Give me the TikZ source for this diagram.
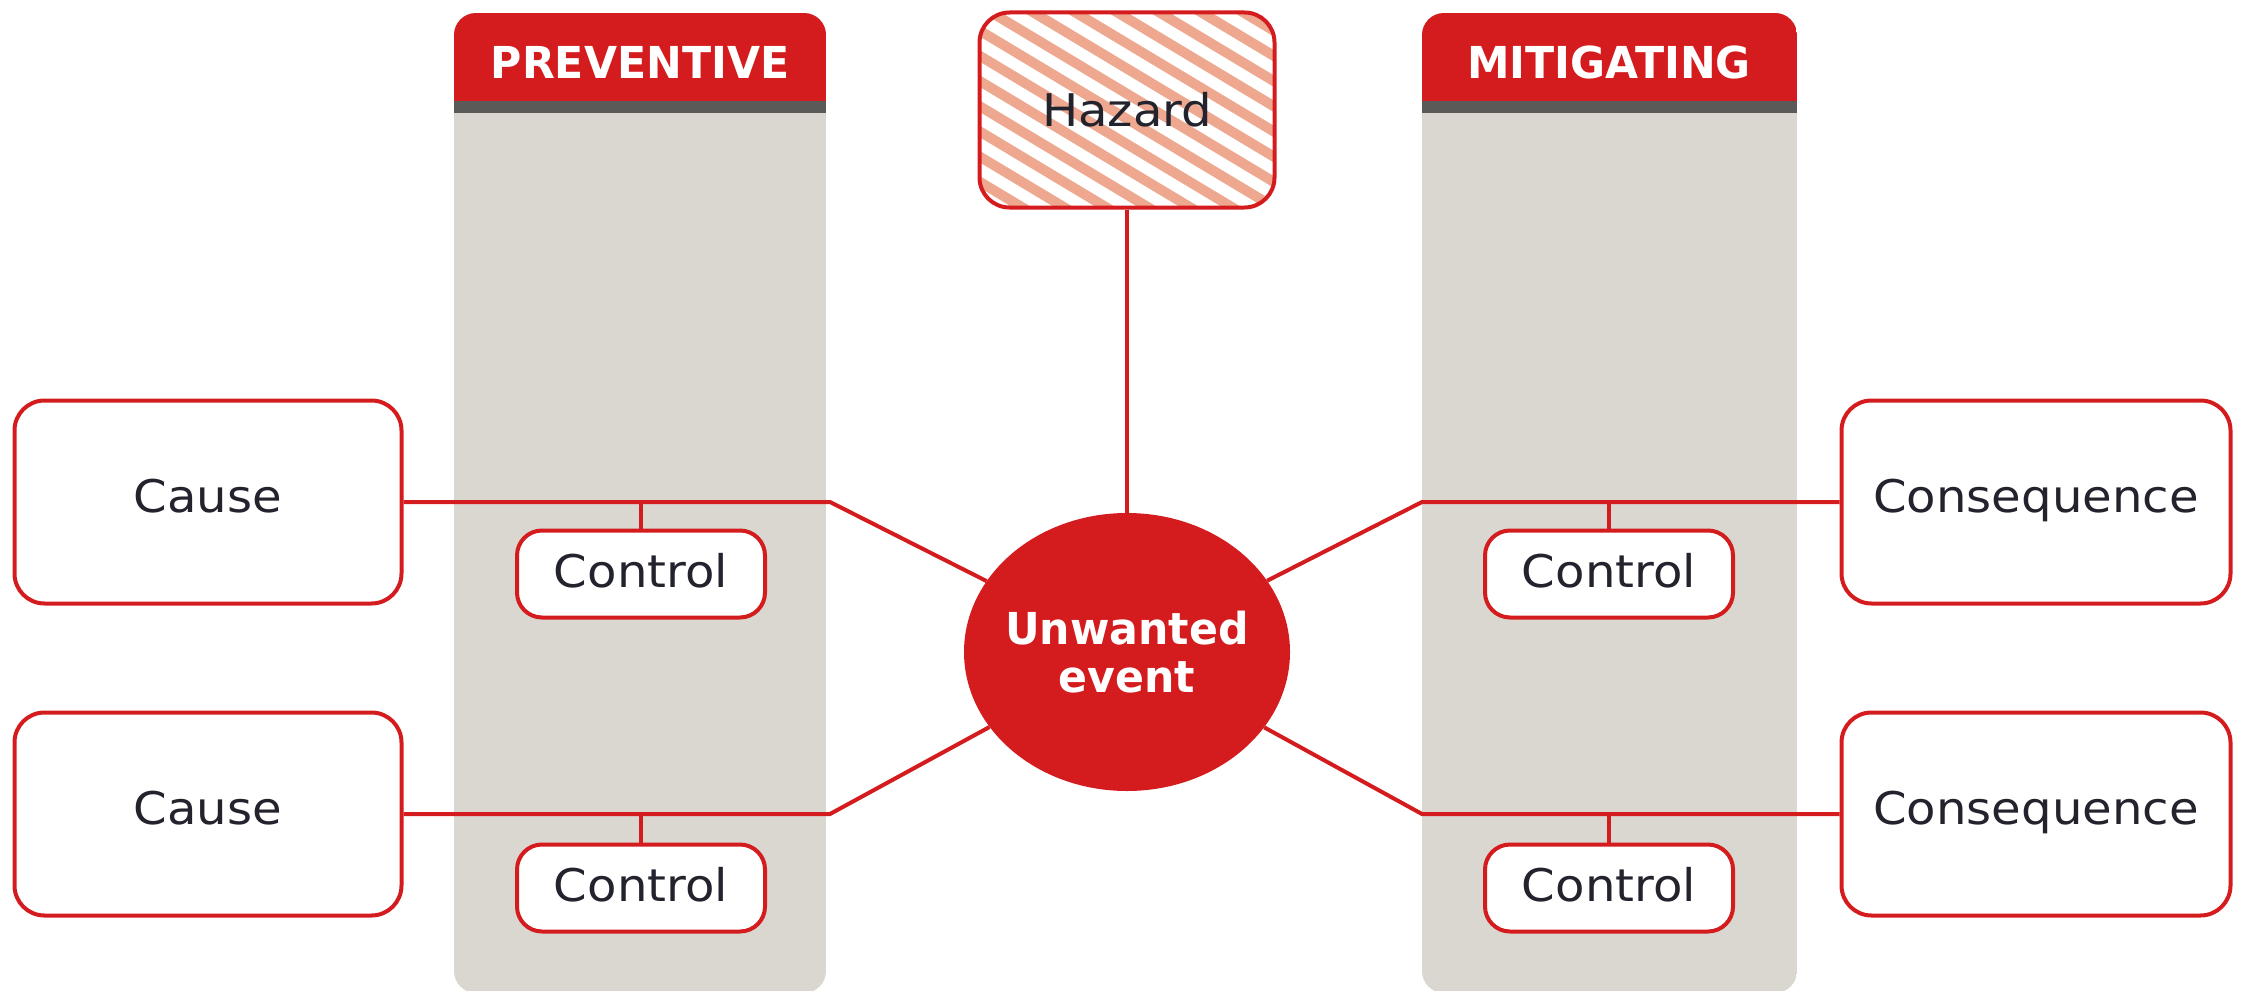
\documentclass[tikz,border=0pt]{standalone}
\usepackage{fontspec}
\usetikzlibrary{shapes.geometric}
\setmainfont{DejaVu Sans}
\newfontfamily\labelfont{DejaVu Sans}[FakeStretch=1.07]
\newfontfamily\headfont{DejaVu Sans}[FakeStretch=0.97]

\definecolor{bowred}{HTML}{D41C1E}
\definecolor{colgrey}{HTML}{DAD7D0}
\definecolor{bandgrey}{HTML}{5A5A58}
\definecolor{stripe}{HTML}{EEA88F}
\definecolor{ink}{HTML}{23232D}

\tikzset{
  labeltext/.style={font=\labelfont\fontsize{45}{54}\selectfont, text=ink},
  headtext/.style={font=\headfont\bfseries\fontsize{44}{48}\selectfont, text=white},
  endbox/.style={labeltext, draw=bowred, line width=4pt, fill=white,
    rounded corners=30pt, minimum width=387pt, minimum height=203pt,
    inner xsep=0pt, inner ysep=0pt, text depth=12pt},
  ctlbox/.style={labeltext, draw=bowred, line width=4pt, fill=white,
    rounded corners=25pt, minimum width=248pt, minimum height=87pt,
    inner sep=0pt, text depth=8pt},
  hazbox/.style={labeltext, draw=bowred, line width=4pt,
    rounded corners=30pt, minimum width=295pt, minimum height=195pt, inner sep=0pt,
    path picture={
      \foreach \k in {-14,...,14}
        \draw[stripe, line width=10pt]
          ([xshift=\k*42pt+27pt]path picture bounding box.center) ++(-500,-300) -- ++(1000,600);
    }},
  eventnode/.style={ellipse, fill=bowred, minimum width=326pt, minimum height=278pt,
    inner xsep=-70pt, inner ysep=0pt, align=center,
    font=\headfont\bfseries\fontsize{44}{48}\selectfont, text=white},
  conn/.style={draw=bowred, line width=4pt},
}

\begin{document}
\begin{tikzpicture}[x=1pt, y=-1pt]
\useasboundingbox (0,0) rectangle (2242,990);

% barrier columns with their headers
\foreach \xa/\xb in {454/826, 1422/1797} {
  \begin{scope}
    \clip[rounded corners=22pt] (\xa,13) rectangle (\xb,993);
    \fill[colgrey] (\xa,13) rectangle (\xb,993);
    \fill[bowred] (\xa,13) rectangle (\xb,101);
    \fill[bandgrey] (\xa,101) rectangle (\xb,113);
  \end{scope}
}
\node[headtext] (prevhead) at (640,62) {PREVENTIVE};
\node[headtext] (mitihead) at (1609,62) {MITIGATING};

% hazard and top event
\node[hazbox] (hazard) at (1127,110) {Hazard};
\node[eventnode] (event) at (1127,652) {Unwanted\\event};

% causes and consequences
\node[endbox] (cause1) at (208,502) {Cause};
\node[endbox] (cause2) at (208,814) {Cause};
\node[endbox, minimum width=389pt] (cons1) at (2036,502) {Consequence};
\node[endbox, minimum width=389pt] (cons2) at (2036,814) {Consequence};

% controls
\node[ctlbox] (pctl1) at (641,574) {Control};
\node[ctlbox] (pctl2) at (641,888) {Control};
\node[ctlbox] (mctl1) at (1609,574) {Control};
\node[ctlbox] (mctl2) at (1609,888) {Control};

% bend points of the pathways
\coordinate (bl1) at (830,502);
\coordinate (bl2) at (830,814);
\coordinate (br1) at (1422,502);
\coordinate (br2) at (1422,814);

% pathways
\draw[conn] (hazard) -- (event);
\draw[conn] (cause1) -- (bl1) -- (event);
\draw[conn] (cause2) -- (bl2) -- (event);
\draw[conn] (cons1) -- (br1) -- (event);
\draw[conn] (cons2) -- (br2) -- (event);

% controls hanging from the pathways
\draw[conn] (pctl1) -- (pctl1 |- bl1);
\draw[conn] (pctl2) -- (pctl2 |- bl2);
\draw[conn] (mctl1) -- (mctl1 |- br1);
\draw[conn] (mctl2) -- (mctl2 |- br2);
\end{tikzpicture}
\end{document}
